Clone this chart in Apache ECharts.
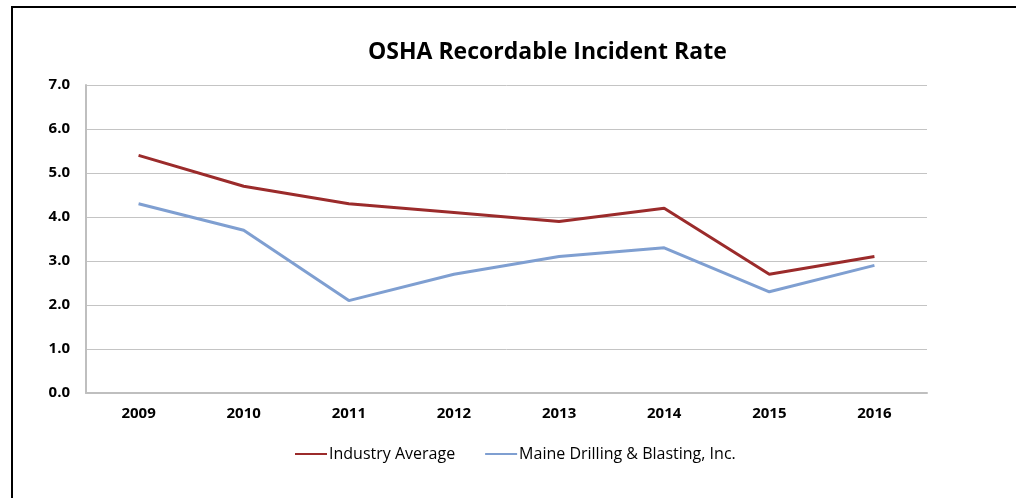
<!DOCTYPE html>
<html>
<head>
<meta charset="utf-8">
<script src="https://cdn.jsdelivr.net/npm/echarts@6/dist/echarts.min.js"></script>
<style>html,body{margin:0;padding:0;background:#fff}#c{width:1016px;height:498px}</style>
</head>
<body>
<div id="c"></div>
<script>
var years = ['2009','2010','2011','2012','2013','2014','2015','2016'];
var industryAverage = [5.4, 4.7, 4.3, 4.1, 3.9, 4.2, 2.7, 3.1];
var maineDrilling = [4.3, 3.7, 2.1, 2.7, 3.1, 3.3, 2.3, 2.9];
var yTicks = {min: 0, max: 7, interval: 1};

var FONT = '"Open Sans", Lato, sans-serif';
var chart = echarts.init(document.getElementById('c'), null, {renderer: 'canvas'});
chart.setOption({
  animation: false,
  backgroundColor: '#fff',
  title: {
    text: 'OSHA Recordable Incident Rate',
    left: 363, top: 36,
    textStyle: {fontFamily: FONT, fontWeight: 'bold', fontSize: 23, color: '#000'}
  },
  graphic: [{
    type: 'rect', silent: true,
    shape: {x: 12, y: 7, width: 1100, height: 600},
    style: {fill: 'none', stroke: '#000', lineWidth: 2}
  }],
  legend: {
    bottom: 31, left: 290,
    itemWidth: 32, itemHeight: 2, itemGap: 30,
    icon: 'rect',
    textStyle: {fontFamily: FONT, fontSize: 16, color: '#000', padding: [0, 0, 0, -3]},
    data: ['Industry Average', 'Maine Drilling & Blasting, Inc.']
  },
  grid: {left: 86, right: 89, top: 85, bottom: 105, containLabel: false},
  xAxis: {
    type: 'category', data: years, boundaryGap: true,
    axisLine: {lineStyle: {color: '#bfbfbf', width: 2}},
    axisTick: {show: false},
    axisLabel: {fontFamily: FONT, fontWeight: 'bold', fontSize: 15, color: '#000', margin: 13}
  },
  yAxis: {
    type: 'value', min: yTicks.min, max: yTicks.max, interval: yTicks.interval,
    axisLine: {show: true, lineStyle: {color: '#bfbfbf', width: 2}},
    axisTick: {show: false},
    splitLine: {lineStyle: {color: '#c4c4c4', width: 1}},
    axisLabel: {fontFamily: FONT, fontWeight: 'bold', fontSize: 15, color: '#000', margin: 16,
      formatter: function (v) { return v.toFixed(1); }}
  },
  series: [{
    name: 'Industry Average', type: 'line', data: industryAverage,
    showSymbol: false, symbol: 'none',
    lineStyle: {color: '#9b2b2b', width: 3}, itemStyle: {color: '#9b2b2b'}
  }, {
    name: 'Maine Drilling & Blasting, Inc.', type: 'line', data: maineDrilling,
    showSymbol: false, symbol: 'none',
    lineStyle: {color: '#7f9fd1', width: 3}, itemStyle: {color: '#7f9fd1'}
  }]
});
</script>
</body>
</html>
